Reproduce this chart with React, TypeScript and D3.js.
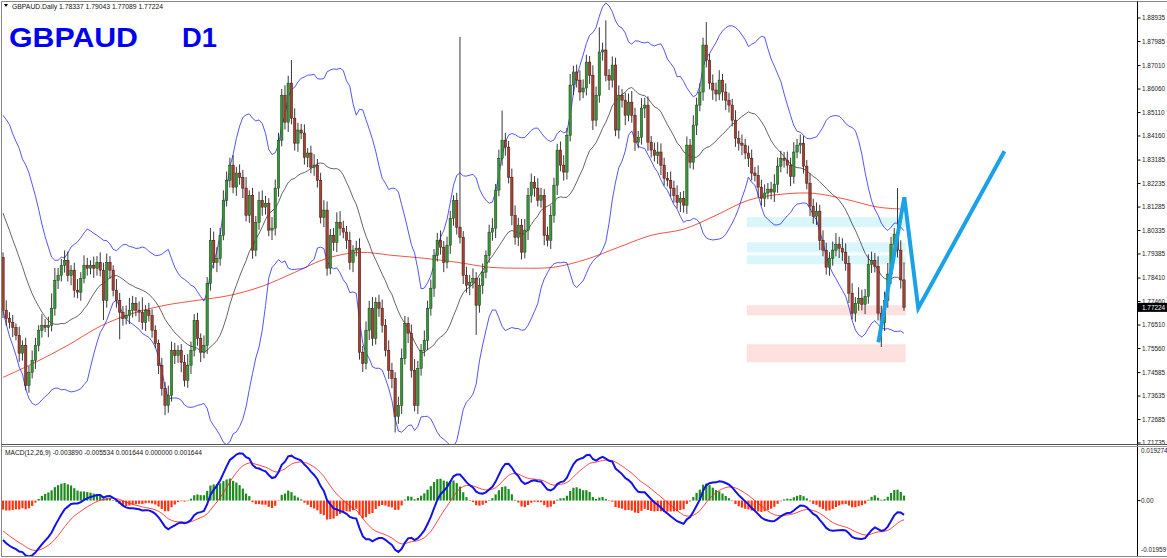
import React, { useEffect, useMemo } from "react";
import * as d3 from "d3";

// ---------- DATA ----------
const symbolHeader = "GBPAUD.Daily  1.78337 1.79043 1.77089 1.77224";
const macdHeader = "MACD(12,26,9) -0.003890 -0.005534 0.001644 0.000000 0.001644";
const lastPrice = 1.77224;

// closes before the first visible bar (needed for the moving averages)
const leadInCloses = [1.8391, 1.8351, 1.8391, 1.8318, 1.8290, 1.8290, 1.8229, 1.8176, 1.8168, 1.8116,
  1.8108, 1.8095, 1.8027, 1.7966, 1.7954, 1.7893, 1.7852, 1.7832, 1.7925];

const closes = [
  1.7711, 1.7678, 1.7662, 1.7642, 1.7609, 1.7537, 1.7569, 1.7407, 1.7460, 1.7508,
  1.7569, 1.7630, 1.7650, 1.7642, 1.7650, 1.7719, 1.7832, 1.7852, 1.7893, 1.7913,
  1.7852, 1.7873, 1.7792, 1.7784, 1.7840, 1.7893, 1.7881, 1.7893, 1.7881, 1.7905,
  1.7873, 1.7751, 1.7905, 1.7873, 1.7792, 1.7751, 1.7703, 1.7678, 1.7690, 1.7711,
  1.7739, 1.7711, 1.7703, 1.7662, 1.7711, 1.7690, 1.7630, 1.7577, 1.7488, 1.7395,
  1.7326, 1.7366, 1.7549, 1.7528, 1.7549, 1.7500, 1.7427, 1.7488, 1.7549, 1.7670,
  1.7597, 1.7541, 1.7569, 1.7820, 1.7994, 1.7905, 1.7921, 1.8014, 1.8156, 1.8237,
  1.8298,
  1.8209, 1.8266, 1.8249, 1.8205, 1.8095, 1.8176, 1.7954, 1.8067, 1.8156, 1.8128,
  1.8144, 1.8035, 1.8043, 1.8205, 1.8399, 1.8581, 1.8472, 1.8630, 1.8488, 1.8387,
  1.8440, 1.8428, 1.8330, 1.8347, 1.8290, 1.8298, 1.8237, 1.8087, 1.8116, 1.7881,
  1.8014, 1.7986, 1.8067, 1.8043, 1.8027, 1.7994, 1.7905, 1.7954, 1.7962, 1.7541,
  1.7496, 1.7630, 1.7719, 1.7597, 1.7743, 1.7719, 1.7650, 1.7549, 1.7468, 1.7435,
  1.7281, 1.7326, 1.7516, 1.7658, 1.7618, 1.7468, 1.7326, 1.7476, 1.7549, 1.7589,
  1.7719, 1.7800, 1.7933, 1.7994, 1.7966, 1.7905, 1.7974, 1.8083, 1.8156,
  1.8047, 1.8006, 1.7852, 1.7812, 1.7824, 1.7840, 1.7731, 1.7812, 1.7865, 1.7933,
  1.8027, 1.8043, 1.8197, 1.8326, 1.8399, 1.8371, 1.8249, 1.8095, 1.8006, 1.8055,
  1.7946, 1.8035, 1.8176, 1.8229, 1.8205, 1.8156, 1.8176, 1.8014, 1.7994, 1.8095,
  1.8217, 1.8359, 1.8298, 1.8270, 1.8419, 1.8622, 1.8675, 1.8642, 1.8594, 1.8610,
  1.8715, 1.8662, 1.8480, 1.8581, 1.8756, 1.8764, 1.8662, 1.8642, 1.8703, 1.8440,
  1.8581, 1.8561, 1.8500, 1.8553, 1.8500, 1.8391, 1.8411, 1.8529, 1.8541, 1.8391,
  1.8359, 1.8338, 1.8351, 1.8298, 1.8245, 1.8237, 1.8205, 1.8176, 1.8148, 1.8164,
  1.8136,
  1.8379, 1.8310, 1.8460, 1.8541, 1.8594, 1.8784, 1.8723, 1.8630, 1.8602, 1.8586,
  1.8642, 1.8594, 1.8561, 1.8541, 1.8480, 1.8407, 1.8387, 1.8379, 1.8347, 1.8326,
  1.8266, 1.8257, 1.8209, 1.8164, 1.8185, 1.8201, 1.8189, 1.8221, 1.8294, 1.8326,
  1.8318, 1.8298, 1.8253, 1.8351, 1.8379, 1.8387, 1.8294, 1.8225, 1.8132, 1.8091,
  1.8112, 1.7994, 1.7954, 1.7885, 1.7921, 1.7954, 1.7978, 1.7962, 1.7946, 1.7901,
  1.7780, 1.7699, 1.7739, 1.7759, 1.7735, 1.7767, 1.7897, 1.7913, 1.7889, 1.7699,
  1.7662, 1.7751, 1.7857, 1.7978, 1.8019, 1.7954, 1.78337, 1.77224,
];

// wick lengths beyond the body, in pips (0.0001)
const wickHighPips = [
  20, 40, 25, 30, 15, 35, 20, 30, 25, 40, 30, 20, 45, 25, 35, 60, 50, 30, 25, 40,
  35, 20, 30, 45, 25, 40, 30, 20, 35, 25, 40, 30, 35, 25, 20, 45, 30, 25, 40, 50,
  30, 25, 35, 60, 20, 30, 25, 20, 15, 30, 25, 40, 35, 30, 20, 25, 30, 45, 35, 25,
  30, 20, 40, 25, 50, 35, 45, 30, 40, 35, 30, 40, 25, 35, 30, 45, 20, 30, 25, 35,
  40, 30, 20, 45, 35, 30, 25, 40, 30, 93, 40, 30, 25, 35, 20, 30, 45, 25, 30, 40,
  35, 25, 30, 40, 45, 30, 25, 35, 20, 30, 40, 25, 35, 30, 45, 20, 30, 35, 25, 40,
  30, 25, 35, 40, 30, 25, 35, 45, 30, 25, 40, 30, 35, 25, 30, 40, 25, 35, 30, 20,
  30, 770, 25, 35, 30, 40, 25, 30, 35, 20, 30, 40, 25, 35, 120, 30, 25, 35, 40, 30,
  25, 45, 30, 35, 25, 40, 30, 25, 35, 40, 30, 25, 35, 40, 30, 45, 25, 30, 40, 35,
  30, 25, 40, 35, 100, 30, 120, 25, 35, 30, 40, 25, 30, 35, 45, 30, 25, 40, 30, 35,
  25, 30, 40, 35, 30, 25, 35, 30, 40, 25, 30, 35, 25, 40, 30, 35, 30, 93, 25, 35,
  30, 40, 25, 35, 30, 25, 40, 30, 35, 25, 30, 35, 25, 40, 30, 35, 25, 30, 40, 35,
  30, 25, 35, 30, 40, 25, 35, 30, 25, 40, 30, 35, 25, 40, 30, 25, 35, 45, 30, 40,
  35, 30, 40, 25, 45, 35, 30, 40, 35, 30, 40, 30, 35, 45, 30, 25, 186, 40, 71,
];
const wickLowPips = [
  32, 30, 25, 40, 20, 35, 30, 20, 30, 25, 35, 25, 30, 20, 40, 25, 30, 35, 25, 30,
  25, 40, 30, 25, 35, 20, 30, 25, 40, 30, 25, 80, 30, 35, 25, 30, 110, 30, 25, 35,
  30, 25, 40, 30, 35, 25, 30, 20, 35, 30, 40, 30, 25, 35, 30, 40, 25, 30, 35, 25,
  30, 40, 25, 35, 30, 25, 40, 30, 20, 25, 30, 25, 35, 30, 40, 25, 30, 35, 25, 30,
  35, 30, 25, 40, 30, 35, 25, 30, 40, 25, 30, 35, 25, 30, 40, 25, 35, 30, 25, 40,
  30, 25, 35, 40, 30, 25, 35, 30, 40, 25, 30, 35, 25, 40, 30, 25, 35, 30, 25, 35,
  40, 65, 30, 35, 25, 40, 30, 25, 35, 30, 25, 40, 30, 35, 25, 30, 40, 25, 35, 30,
  30, 25, 35, 30, 40, 25, 120, 30, 35, 25, 30, 35, 40, 25, 30, 35, 25, 40, 30, 35,
  30, 25, 40, 30, 35, 25, 30, 40, 25, 35, 30, 40, 25, 35, 30, 25, 40, 30, 35, 25,
  30, 35, 40, 25, 30, 35, 25, 40, 30, 25, 35, 30, 40, 25, 30, 35, 25, 30, 40, 35,
  30, 25, 35, 40, 30, 25, 35, 30, 25, 40, 30, 35, 25, 30, 40, 25, 35, 30, 25, 40,
  30, 25, 35, 40, 30, 25, 35, 30, 40, 25, 35, 30, 25, 40, 30, 35, 25, 30, 40, 35,
  25, 30, 35, 40, 30, 25, 35, 30, 25, 40, 30, 35, 40, 25, 30, 35, 30, 25, 40, 35,
  30, 40, 25, 35, 30, 25, 40, 30, 35, 25, 30, 100, 35, 30, 40, 25, 30, 35, 14,
];

// long moving average (red), read at every 10th bar
const slowMaBars = [0, 10, 20, 30, 40, 50, 60, 70, 80, 90, 100, 110, 120, 130, 140, 150, 160, 170, 180, 190, 200, 210, 220, 230, 240, 250, 260, 270, 278];
const slowMaValues = [1.7439, 1.7500, 1.7569, 1.7646, 1.7698, 1.7731, 1.7751, 1.7771, 1.7808, 1.7864, 1.7921, 1.7945, 1.7933, 1.7921, 1.7905, 1.7885, 1.7881, 1.7885, 1.7917, 1.7966, 1.8014, 1.8039, 1.8095, 1.8156, 1.8180, 1.8184, 1.8160, 1.8128, 1.8120];

const priceTicks = [1.88935, 1.87985, 1.8701, 1.8606, 1.8511, 1.8416, 1.83185, 1.82235, 1.81285, 1.80335, 1.79385, 1.7841, 1.7746, 1.7651, 1.7556, 1.74585, 1.73635, 1.72685, 1.71735];
const macdTickValues = [0.019274, 0, -0.01959];
const macdTickLabels = ["0.019274", "0.00", "-0.01959"];

// zones (bar range, price ranges)
const zoneBars = [229.5, 278.5];
const resistanceZones = [[1.8047, 1.8087], [1.7945, 1.7986], [1.7897, 1.7933]];
const supportZones = [[1.7690, 1.7731], [1.7500, 1.7573]];

// projected path (blue zig-zag)
const projectionBars = [270.1, 278.1, 282.4, 309];
const projectionPrices = [1.7581, 1.8168, 1.7719, 1.8354];

// ---------- helpers ----------
function ema(arr: number[], n: number) {
  const k = 2 / (n + 1);
  let e = arr[0];
  return arr.map((v, i) => (i === 0 ? e : (e = v * k + e * (1 - k))));
}

export default function App() {
  useEffect(() => {
    document.body.style.margin = "0";
  }, []);

  const W = 1167, H = 558;
  const axisX = 1137.5;
  const mainTop = 2, mainBottom = 444;
  const subTop = 447, subBottom = 555;

  const calc = useMemo(() => {
    const N = closes.length;
    const L = leadInCloses.length;
    const all = [...leadInCloses, ...closes];
    const opens = closes.map((_, i) => all[L + i - 1]);
    const highs = closes.map((c, i) => Math.max(opens[i], c) + wickHighPips[i] / 10000);
    const lows = closes.map((c, i) => Math.min(opens[i], c) - wickLowPips[i] / 10000);
    const mid: number[] = [], up: number[] = [], lo: number[] = [];
    for (let i = 0; i < N; i++) {
      const w = all.slice(Math.max(0, L + i - 19), L + i + 1);
      const m = d3.mean(w)!;
      const sd = Math.sqrt(d3.mean(w.map((v) => (v - m) * (v - m)))!);
      mid.push(m); up.push(m + 2 * sd); lo.push(m - 2 * sd);
    }
    const e12 = ema(all, 12), e26 = ema(all, 26);
    const macdAll = all.map((_, i) => e12[i] - e26[i]);
    const sigAll = ema(macdAll, 9);
    const macd = macdAll.slice(L);
    const sig = sigAll.slice(L);
    const hist = macd.map((v, i) => v - sig[i]);
    return { N, opens, highs, lows, mid, up, lo, macd, sig, hist };
  }, []);

  const { N, opens, highs, lows, mid, up, lo, macd, sig, hist } = calc;

  const x = d3.scaleLinear().domain([0, N - 1]).range([3, 904]);
  const y = d3.scaleLinear().domain([1.71735, 1.88935]).range([443, 18]);
  const ym = d3.scaleLinear().domain([-0.01959, 0.019274]).range([subBottom, subTop]);

  const idx = d3.range(N);
  const lineOf = (vals: number[], sc: d3.ScaleLinear<number, number>) =>
    d3.line<number>().x((i) => x(i)).y((i) => sc(vals[i]))(idx) || "";

  const slowPath = d3.line<number>()
    .x((i) => x(slowMaBars[i]))
    .y((i) => y(slowMaValues[i]))
    .curve(d3.curveCatmullRom)(d3.range(slowMaBars.length)) || "";

  const projPath = d3.line<number>()
    .x((i) => x(projectionBars[i]))
    .y((i) => y(projectionPrices[i]))(d3.range(projectionBars.length)) || "";

  const bodyW = 2.4;
  const small = "'Liberation Sans', Arial, sans-serif";

  return (
    <div style={{ position: "absolute", left: 0, top: 0, width: W, height: H }}>
      <svg width={W} height={H} style={{ display: "block", background: "#fff" }}>
        <defs>
          <clipPath id="mainClip"><rect x={2} y={mainTop} width={axisX - 2} height={mainBottom - mainTop} /></clipPath>
          <clipPath id="subClip"><rect x={2} y={subTop - 1} width={axisX - 2} height={subBottom - subTop + 2} /></clipPath>
        </defs>

        {/* frame */}
        <line x1={1.5} y1={1.5} x2={W} y2={1.5} stroke="#888" strokeWidth={1} />
        <line x1={1.5} y1={1.5} x2={1.5} y2={557} stroke="#888" strokeWidth={1} />

        <g clipPath="url(#mainClip)">
          {/* zones */}
          {resistanceZones.map((z, k) => (
            <rect key={"r" + k} x={x(zoneBars[0])} width={x(zoneBars[1]) - x(zoneBars[0])}
              y={y(z[1])} height={y(z[0]) - y(z[1])} fill="#d9f6fb" />
          ))}
          {supportZones.map((z, k) => (
            <rect key={"s" + k} x={x(zoneBars[0])} width={x(zoneBars[1]) - x(zoneBars[0])}
              y={y(z[1])} height={y(z[0]) - y(z[1])} fill="#fde1df" />
          ))}

          {/* indicators */}
          <path d={slowPath} fill="none" stroke="#f0402c" strokeWidth={0.9} />
          <path d={lineOf(up, y)} fill="none" stroke="#2a2af0" strokeWidth={0.8} />
          <path d={lineOf(lo, y)} fill="none" stroke="#2a2af0" strokeWidth={0.8} />
          <path d={lineOf(mid, y)} fill="none" stroke="#222" strokeWidth={0.7} />

          {/* candles */}
          {idx.map((i) => {
            const o = opens[i], c = closes[i];
            const bull = c >= o;
            const top = y(Math.max(o, c));
            const h = Math.max(0.8, Math.abs(y(o) - y(c)));
            return (
              <g key={i}>
                <line x1={x(i)} x2={x(i)} y1={y(highs[i])} y2={y(lows[i])} stroke="#222" strokeWidth={0.9} />
                <rect x={x(i) - bodyW / 2} y={top} width={bodyW} height={h}
                  fill={bull ? "#3f913f" : "#9a4636"} stroke={bull ? "#0b4a0b" : "#560a0a"} strokeWidth={0.5} />
              </g>
            );
          })}

          {/* projection */}
          <path d={projPath} fill="none" stroke="#1ba2e6" strokeWidth={4} strokeLinejoin="miter" />
        </g>

        {/* header texts */}
        <path d="M4,4 L8,4 L6,7 Z" fill="#000" />
        <text x={12} y={9} fontFamily={small} fontSize={6.8} fill="#111">{symbolHeader}</text>
        <text x={9} y={47} fontFamily="'Liberation Sans', Arial, sans-serif" fontWeight="bold" fontSize={28}
          fill="#0000ee" textLength={129} lengthAdjust="spacingAndGlyphs">GBPAUD</text>
        <text x={182} y={47} fontFamily="'Liberation Sans', Arial, sans-serif" fontWeight="bold" fontSize={28}
          fill="#0000ee" textLength={35} lengthAdjust="spacingAndGlyphs">D1</text>

        {/* price axis */}
        <line x1={axisX} x2={axisX} y1={1.5} y2={557} stroke="#000" strokeWidth={1} />
        {priceTicks.map((v) => (
          <g key={v}>
            <line x1={axisX} x2={axisX + 3} y1={y(v)} y2={y(v)} stroke="#000" strokeWidth={1} />
            <text x={1142} y={y(v)} dy="0.35em" fontFamily={small} fontSize={6.4} fill="#222">{v.toFixed(5)}</text>
          </g>
        ))}
        <rect x={axisX + 0.5} y={y(lastPrice) - 4.5} width={W - axisX} height={9} fill="#000" />
        <text x={1142} y={y(lastPrice)} dy="0.35em" fontFamily={small} fontSize={6.4} fill="#fff">{lastPrice.toFixed(5)}</text>

        {/* separator */}
        <line x1={1.5} x2={W} y1={444.5} y2={444.5} stroke="#555" strokeWidth={1} />
        <line x1={1.5} x2={W} y1={446.5} y2={446.5} stroke="#999" strokeWidth={1} />
        <line x1={1.5} x2={W} y1={556.5} y2={556.5} stroke="#888" strokeWidth={1} />

        {/* MACD panel */}
        <g clipPath="url(#subClip)">
          {idx.map((i) => {
            const v = hist[i];
            const y0 = ym(0), y1 = ym(v);
            return (
              <rect key={"h" + i} x={x(i) - 1.1} width={2.2} y={Math.min(y0, y1)} height={Math.max(0.5, Math.abs(y1 - y0))}
                fill={v >= 0 ? "#1e8a1e" : "#ff3311"} />
            );
          })}
          <path d={lineOf(sig, ym)} fill="none" stroke="#ff1a1a" strokeWidth={0.8} />
          <path d={lineOf(macd, ym)} fill="none" stroke="#1212e6" strokeWidth={2} />
        </g>
        <text x={5} y={455} fontFamily={small} fontSize={6.6} fill="#111">{macdHeader}</text>
        {macdTickValues.map((v, k) => {
          const yy = Math.min(Math.max(ym(v), 451), 550);
          return (
            <g key={"m" + k}>
              {k === 1 && <line x1={axisX} x2={axisX + 3} y1={ym(v)} y2={ym(v)} stroke="#000" />}
              <text x={1141} y={yy} dy="0.35em" fontFamily={small} fontSize={6.4} fill="#222">{macdTickLabels[k]}</text>
            </g>
          );
        })}
      </svg>
    </div>
  );
}
